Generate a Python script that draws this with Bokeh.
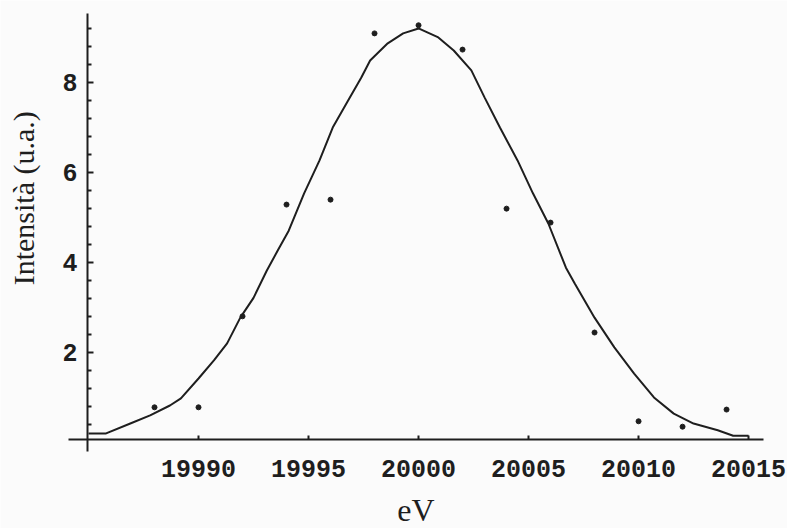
import math
from bokeh.plotting import figure
from bokeh.models import Range1d, FixedTicker, Label
from bokeh.embed import file_html
from bokeh.resources import INLINE

# measured points (eV, intensity)
point_x = [19988, 19990, 19992, 19994, 19996, 19998, 20000, 20002,
           20004, 20006, 20008, 20010, 20012, 20014]
point_y = [0.79, 0.79, 2.81, 5.29, 5.40, 9.09, 9.27, 8.73,
           5.20, 4.89, 2.45, 0.48, 0.36, 0.74]

# fitted curve
curve_x = [19985.0, 19985.8, 19986.9, 19987.8, 19988.7, 19989.2, 19990.0,
           19990.7, 19991.3, 19991.9, 19992.5, 19993.1, 19993.6, 19994.1,
           19994.8, 19995.5, 19996.1, 19996.8, 19997.4, 19997.8, 19998.6,
           19999.3, 20000.0, 20000.9, 20001.6, 20002.4, 20003.0, 20003.7,
           20004.5, 20005.2, 20005.9, 20006.7, 20007.1, 20008.0, 20008.9,
           20009.8, 20010.7, 20011.6, 20012.5, 20013.6, 20014.3, 20015.0]
curve_y = [0.21, 0.21, 0.43, 0.61, 0.83, 0.99, 1.43,
           1.83, 2.21, 2.78, 3.22, 3.82, 4.27, 4.71,
           5.54, 6.27, 7.00, 7.60, 8.11, 8.49, 8.87,
           9.09, 9.20, 9.00, 8.71, 8.27, 7.67, 7.00,
           6.27, 5.54, 4.87, 3.89, 3.54, 2.78, 2.12,
           1.54, 1.01, 0.65, 0.43, 0.28, 0.16, 0.16]

x_ticks = [19990, 19995, 20000, 20005, 20010, 20015]
y_ticks = [2, 4, 6, 8]
y_minor = [0.4, 0.8, 1.2, 1.6, 2.4, 2.8, 3.2, 3.6, 4.4, 4.8, 5.2, 5.6,
           6.4, 6.8, 7.2, 7.6, 8.4, 8.8, 9.2]

x_label = "eV"
y_label = "Intensità (u.a.)"

BG = "#fbfbfb"
INK = "#1e1e1e"

p = figure(width=787, height=528, output_backend="svg", toolbar_location=None,
           x_range=Range1d(19981.0, 20016.77), y_range=Range1d(-1.900, 9.820),
           min_border_left=0, min_border_right=0, min_border_top=0,
           min_border_bottom=0)
p.background_fill_color = BG
p.border_fill_color = BG
p.outline_line_color = None
p.grid.visible = False

p.line(curve_x, curve_y, line_color=INK, line_width=2)
p.scatter(point_x, point_y, size=5, fill_color=INK, line_color=INK)

xa = p.xaxis[0]
xa.fixed_location = 0.075
xa.bounds = (19984.09, 20015.68)
xa.ticker = FixedTicker(ticks=x_ticks)
xa.axis_label = x_label
xa.axis_label_text_font = "Liberation Serif"
xa.axis_label_text_font_size = "32px"
xa.axis_label_text_font_style = "normal"
xa.axis_label_text_color = INK
xa.axis_label_standoff = 12
xa.major_label_text_font = "Liberation Mono"
xa.major_label_text_font_size = "25px"
xa.major_label_text_font_style = "bold"
xa.major_label_text_color = INK
xa.major_label_standoff = 20
xa.major_tick_in = 4
xa.major_tick_out = 0
xa.minor_tick_in = 0
xa.minor_tick_out = 0
xa.axis_line_width = 2
xa.axis_line_color = INK
xa.major_tick_line_color = INK
xa.major_tick_line_width = 2

ya = p.yaxis[0]
ya.fixed_location = 19984.95
ya.bounds = (-0.191, 9.532)
ya.ticker = FixedTicker(ticks=y_ticks, minor_ticks=y_minor)
ya.major_label_text_font = "Liberation Mono"
ya.major_label_text_font_size = "25px"
ya.major_label_text_font_style = "bold"
ya.major_label_text_color = INK
ya.major_label_standoff = 10
ya.major_tick_in = 6
ya.major_tick_out = 0
ya.minor_tick_in = 4
ya.minor_tick_out = 0
ya.axis_line_width = 2
ya.axis_line_color = INK
ya.major_tick_line_color = INK
ya.major_tick_line_width = 2
ya.minor_tick_line_color = INK
ya.minor_tick_line_width = 2

# y-axis title, placed beside the axis (rotated)
p.add_layout(Label(x=19982.05, y=5.43, text=y_label, angle=math.pi / 2,
                   text_align="center", text_baseline="alphabetic",
                   text_font="Liberation Serif", text_font_size="30px",
                   text_color=INK))

open("out.html", "w").write(file_html(p, INLINE))
